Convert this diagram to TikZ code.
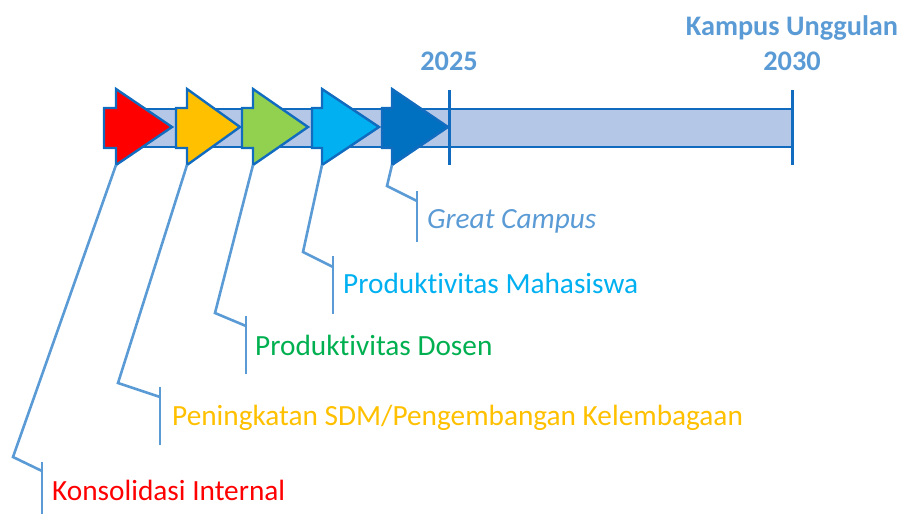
\documentclass[tikz,border=0pt]{standalone}
\usepackage{fontspec}
\setmainfont{Carlito}[Ligatures=NoCommon]
\definecolor{barfill}{HTML}{B4C7E7}
\definecolor{edgeblue}{HTML}{116CC0}
\definecolor{callblue}{HTML}{5B9BD5}
\definecolor{cred}{HTML}{FF0000}
\definecolor{cyel}{HTML}{FFC000}
\definecolor{cgreen}{HTML}{92D050}
\definecolor{tgreen}{HTML}{00B050}
\definecolor{ccyan}{HTML}{00B0F0}
\definecolor{cdark}{HTML}{0070C0}
\begin{document}
\begin{tikzpicture}[x=1pt,y=-1pt,
  callout/.style={draw=callblue,line width=2.6pt},
  tick/.style={draw=edgeblue,line width=3pt},
  blockarrow/.style={draw=edgeblue,line width=2.4pt,line join=miter},
  lbl/.style={font=\fontsize{29.3}{32}\selectfont,anchor=base west,inner sep=0pt},
  hdr/.style={font=\fontsize{28.3}{32}\selectfont\bfseries,text=callblue,anchor=base,inner sep=0pt}]
\useasboundingbox (0,0) rectangle (906,514);
% bar
\path[fill=barfill,draw=edgeblue,line width=2.4pt] (104,109) rectangle (793,147);
\draw[tick] (449,90) -- (449,165);
\draw[tick] (792,90) -- (792,165);
% arrows
\newcommand{\blockarr}[4]{%
  \path[blockarrow,fill=#4] (#1,108) -- (#2,108) -- (#2,89) -- (#3,127) -- (#2,165) -- (#2,148) -- (#1,148) -- cycle;}
\blockarr{104}{116}{172}{cred}
\blockarr{176}{187}{240}{cyel}
\blockarr{242}{253}{308}{cgreen}
\blockarr{312}{322}{379}{ccyan}
\blockarr{382}{392}{448}{cdark}
\coordinate (a1) at (116,165);
\coordinate (a2) at (187,165);
\coordinate (a3) at (253,165);
\coordinate (a4) at (322,165);
\coordinate (a5) at (392,165);
% headers
\node[hdr] (y2025) at (449,70) {2025};
\node[hdr] (y2030) at (792,70) {2030};
\node[hdr] (ku) at (792,35) {Kampus Unggulan};
% labels
\node[lbl,text=cred] (t1) at (52,500) {Konsolidasi Internal};
\node[lbl,text=cyel] (t2) at (172,425) {Peningkatan SDM/Pengembangan Kelembagaan};
\node[lbl,text=tgreen] (t3) at (255,355) {Produktivitas Dosen};
\node[lbl,text=ccyan] (t4) at (343,293) {Produktivitas Mahasiswa};
\node[lbl,text=callblue,font=\fontsize{29.3}{32}\selectfont\itshape] (t5) at (427,228) {Great Campus};
% callout bars
\coordinate (v1a) at (42,462); \coordinate (v1b) at (42,514);
\coordinate (v2a) at (160,387); \coordinate (v2b) at (160,445);
\coordinate (v3a) at (246,316); \coordinate (v3b) at (246,374);
\coordinate (v4a) at (333,256); \coordinate (v4b) at (333,314);
\coordinate (v5a) at (417,191); \coordinate (v5b) at (417,242);
\draw[callout] (v1a) -- (v1b);
\draw[callout] (v2a) -- (v2b);
\draw[callout] (v3a) -- (v3b);
\draw[callout] (v4a) -- (v4b);
\draw[callout] (v5a) -- (v5b);
% callout leaders
\draw[callout] (a1) -- (13,457) -- (42,471);
\draw[callout] (a2) -- (118,383) -- (160,397);
\draw[callout] (a3) -- (215,313) -- (246,326);
\draw[callout] (a4) -- (303,252) -- (333,267);
\draw[callout] (a5) -- (387,186) -- (417,201);
\end{tikzpicture}
\end{document}
